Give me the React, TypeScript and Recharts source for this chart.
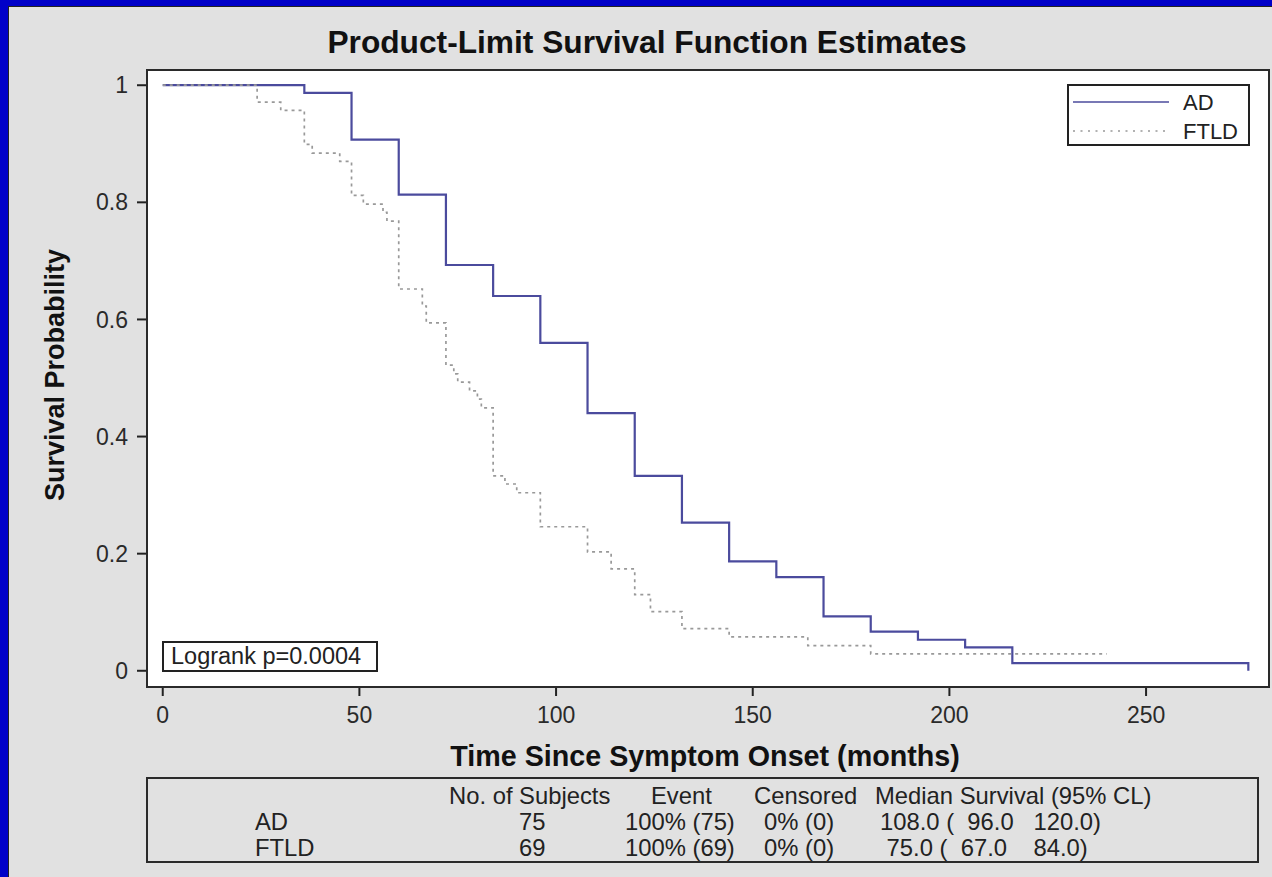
import React from 'react';
import { LineChart, Line, XAxis, YAxis, CartesianGrid, Legend } from 'recharts';

// ---- Data ----
const adTimes = [0, 36, 48, 60, 72, 84, 96, 108, 120, 132, 144, 156, 168, 180, 192, 204, 216, 276];
const adSurv = [1, 0.987, 0.907, 0.813, 0.693, 0.64, 0.56, 0.44, 0.333, 0.253, 0.187, 0.16, 0.093, 0.067, 0.053, 0.04, 0.013, 0];

const ftldTimes = [0, 24, 30, 36, 38, 45, 48, 51, 56, 57, 60, 66, 67, 72, 74, 75, 78, 80, 81, 84, 87, 90, 96, 108, 114, 120, 124, 132, 144, 164, 180, 240];
const ftldSurv = [1, 0.971, 0.957, 0.899, 0.884, 0.87, 0.812, 0.797, 0.783, 0.768, 0.652, 0.623, 0.594, 0.522, 0.507, 0.493, 0.478, 0.464, 0.449, 0.333, 0.319, 0.304, 0.246, 0.203, 0.174, 0.13, 0.101, 0.072, 0.058, 0.043, 0.029, 0.029];

const xTicks = [0, 50, 100, 150, 200, 250];
const yTicks = [0, 0.2, 0.4, 0.6, 0.8, 1];

const groups = ['AD', 'FTLD'];
const nSubjects = [75, 69];
const eventPct = ['100%', '100%'];
const eventN = [75, 69];
const censPct = ['0%', '0%'];
const censN = [0, 0];
const medians = ['108.0', ' 75.0'];
const lowers = ['96.0', '67.0'];
const uppers = ['120.0', '84.0'];
const upperGap = ['   ', '    '];
const tableHeaders = ['No. of Subjects', 'Event', 'Censored', 'Median Survival (95% CL)'];

const titleText = 'Product-Limit Survival Function Estimates';
const xLabel = 'Time Since Symptom Onset (months)';
const yLabel = 'Survival Probability';
const logrankText = 'Logrank p=0.0004';

const adData = adTimes.map((t, i) => ({ t, s: adSurv[i] }));
const ftldData = ftldTimes.map((t, i) => ({ t, s: ftldSurv[i] }));

const W = 1272;
const H = 877;
const FONT = '"Liberation Sans", Arial, Helvetica, sans-serif';
const AD_COLOR = '#4b4b9d';
const FTLD_COLOR = '#999999';

function LegendContent(props: any) {
  const payload = props.payload || [];
  return (
    <div style={{ width: 183, height: 62, boxSizing: 'border-box', border: '2px solid #222', background: '#fff' }}>
      <svg width={179} height={58} style={{ display: 'block' }}>
        {payload.map((p: any, i: number) => {
          const y = 16 + i * 29;
          const dashed = p.value === 'FTLD';
          return (
            <g key={p.value}>
              <line x1={4} x2={dashed ? 96 : 100} y1={y} y2={y} stroke={p.color}
                strokeWidth={dashed ? 1.5 : 1.6} strokeDasharray={dashed ? '2 5.5' : undefined} />
              <text x={114} y={y} dominantBaseline="central" fontSize={22} fontFamily={FONT} fill="#222">{p.value}</text>
            </g>
          );
        })}
      </svg>
    </div>
  );
}

const cell = (left: number, top: number, text: string, extra: any = {}) => (
  <div style={{ position: 'absolute', left, top, transform: 'translateY(-50%)', fontSize: 23.8, lineHeight: 1, whiteSpace: 'pre', color: '#222', ...extra }}>{text}</div>
);

export default function App() {
  const headerLefts = [449, 651, 754, 875];
  const rowTops = [822, 848];
  return (
    <div style={{ position: 'fixed', left: 0, top: 0, width: W, height: H, background: '#0000c8', overflow: 'hidden', fontFamily: FONT }}>
      <div style={{ position: 'absolute', left: 8, top: 6, right: 0, bottom: 0, background: '#e1e1e1', borderLeft: '1px solid #222', borderTop: '1px solid #222' }} />
      <div style={{ position: 'absolute', left: 0, top: 0 }}>
        <LineChart width={W} height={H} margin={{ top: 70, right: 4, bottom: 161, left: 0 }}>
          <CartesianGrid horizontal={false} vertical={false} fill="#fff" />
          <XAxis type="number" dataKey="t" domain={[-4, 281]} ticks={xTicks} allowDataOverflow interval={0}
            height={30} tickSize={10} tickMargin={11} axisLine={false}
            tickLine={{ stroke: '#222', strokeWidth: 2 }}
            tick={{ fill: '#2a2a2a', fontSize: 23, fontFamily: FONT }} />
          <YAxis type="number" domain={[-0.026, 1.026]} ticks={yTicks} allowDataOverflow interval={0}
            width={147} tickSize={10} tickMargin={9} axisLine={false}
            tickLine={{ stroke: '#222', strokeWidth: 2 }}
            tick={{ fill: '#2a2a2a', fontSize: 23, fontFamily: FONT }} />
          <Legend layout="vertical" verticalAlign="middle" align="center"
            wrapperStyle={{ top: 84, left: 1067, width: 183, height: 62 }}
            content={<LegendContent />} />
          <Line data={adData} dataKey="s" name="AD" type="stepAfter" stroke={AD_COLOR} strokeWidth={2.2}
            dot={false} activeDot={false} isAnimationActive={false} />
          <Line data={ftldData} dataKey="s" name="FTLD" type="stepAfter" stroke={FTLD_COLOR} strokeWidth={1.7}
            strokeDasharray="3 4" dot={false} activeDot={false} isAnimationActive={false} />
        </LineChart>
      </div>
      {/* plot frame */}
      <div style={{ position: 'absolute', left: 146, top: 69, width: 1124, height: 619, boxSizing: 'border-box', border: '2px solid #2a2a2a', pointerEvents: 'none' }} />
      {/* title */}
      <div style={{ position: 'absolute', left: 647, top: 43, transform: 'translate(-50%, -50%)', fontSize: 31.7, fontWeight: 'bold', whiteSpace: 'nowrap', lineHeight: 1, color: '#111' }}>{titleText}</div>
      {/* y label */}
      <div style={{ position: 'absolute', left: 55, top: 375, transform: 'translate(-50%, -50%) rotate(-90deg)', fontSize: 27, fontWeight: 'bold', whiteSpace: 'nowrap', lineHeight: 1, color: '#111' }}>{yLabel}</div>
      {/* x label */}
      <div style={{ position: 'absolute', left: 705, top: 756, transform: 'translate(-50%, -50%)', fontSize: 28.7, fontWeight: 'bold', whiteSpace: 'nowrap', lineHeight: 1, color: '#111' }}>{xLabel}</div>
      {/* logrank box */}
      <div style={{ position: 'absolute', left: 162, top: 641, width: 216, height: 31, boxSizing: 'border-box', border: '2px solid #222', background: '#fff', fontSize: 23.5, lineHeight: '27px', paddingLeft: 7, whiteSpace: 'nowrap', color: '#222' }}>{logrankText}</div>
      {/* table */}
      <div style={{ position: 'absolute', left: 146, top: 777, width: 1113, height: 86, boxSizing: 'border-box', border: '2px solid #2a2a2a' }} />
      {tableHeaders.map((h, i) => <React.Fragment key={h}>{cell(headerLefts[i], 796, h)}</React.Fragment>)}
      {groups.map((g, i) => (
        <React.Fragment key={g}>
          {cell(255, rowTops[i], g)}
          {cell(519, rowTops[i], String(nSubjects[i]))}
          {cell(625, rowTops[i], `${eventPct[i]} (${eventN[i]})`)}
          {cell(764, rowTops[i], `${censPct[i]} (${censN[i]})`)}
          {cell(880, rowTops[i], `${medians[i]} (  ${lowers[i]}${upperGap[i]}${uppers[i]})`)}
        </React.Fragment>
      ))}
    </div>
  );
}
